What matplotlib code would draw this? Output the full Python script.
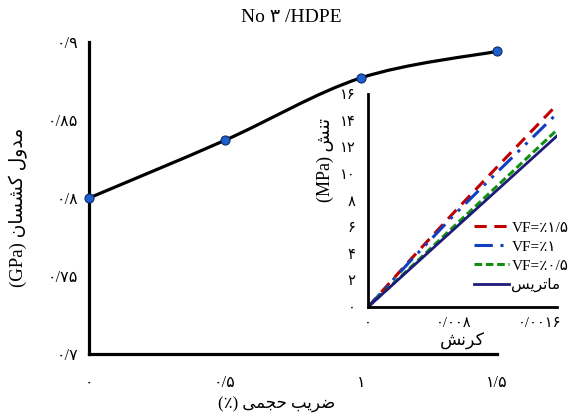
import matplotlib
matplotlib.use("Agg")
import matplotlib.pyplot as plt
from matplotlib.path import Path
from matplotlib.patches import PathPatch
from matplotlib.ticker import FuncFormatter

plt.rcParams['font.family'] = ['Liberation Serif', 'DejaVu Sans']

# main chart: modulus vs volume fraction
vf = [0, 0.5, 1, 1.5]
modulus = [0.8, 0.837, 0.877, 0.894]

# inset: stress-strain curves
strain = [0, 0.004, 0.008, 0.012, 0.0176]
stress_vf15 = [0, 3.6, 7.1, 10.5, 15.2]
stress_vf10 = [0, 3.5, 6.9, 10.1, 14.3]
stress_vf05 = [0, 3.0, 6.05, 9.07, 13.3]
stress_matrix = [0, 2.92, 5.84, 8.76, 12.85]
inset_xticks = [0, 0.008, 0.016]
inset_xticklabels = ['۰', '۰/۰۰۸', '۰/۰۰۱۶']

# tiny persian shaper: (isolated, final, initial, medial)
FORMS = {
    'ا': ('\uFE8D', '\uFE8E', None, None),
    'د': ('\uFEA9', '\uFEAA', None, None),
    'ر': ('\uFEAD', '\uFEAE', None, None),
    'و': ('\uFEED', '\uFEEE', None, None),
    'ب': ('\uFE8F', '\uFE90', '\uFE91', '\uFE92'),
    'ت': ('\uFE95', '\uFE96', '\uFE97', '\uFE98'),
    'ج': ('\uFE9D', '\uFE9E', '\uFE9F', '\uFEA0'),
    'ح': ('\uFEA1', '\uFEA2', '\uFEA3', '\uFEA4'),
    'س': ('\uFEB1', '\uFEB2', '\uFEB3', '\uFEB4'),
    'ش': ('\uFEB5', '\uFEB6', '\uFEB7', '\uFEB8'),
    'ض': ('\uFEBD', '\uFEBE', '\uFEBF', '\uFEC0'),
    'ل': ('\uFEDD', '\uFEDE', '\uFEDF', '\uFEE0'),
    'م': ('\uFEE1', '\uFEE2', '\uFEE3', '\uFEE4'),
    'ن': ('\uFEE5', '\uFEE6', '\uFEE7', '\uFEE8'),
    'ک': ('\uFB8E', '\uFB8F', '\uFB90', '\uFB91'),
    'ی': ('\uFBFC', '\uFBFD', '\uFBFE', '\uFBFF'),
}


def fa(text):
    out = []
    for i, ch in enumerate(text):
        if ch not in FORMS:
            out.append(ch)
            continue
        prev = text[i - 1] if i > 0 else None
        nxt = text[i + 1] if i + 1 < len(text) else None
        jp = prev in FORMS and FORMS[prev][2] is not None
        jn = nxt in FORMS and FORMS[ch][2] is not None
        iso, fin, ini, med = FORMS[ch]
        out.append(med if jp and jn else fin if jp else ini if jn else iso)
    return ''.join(reversed(out))


def fa_num(v, pos=None):
    s = '{:g}'.format(v)
    return s.translate(str.maketrans('0123456789.', '۰۱۲۳۴۵۶۷۸۹/'))


def smooth_path(xs, ys):
    # catmull-rom through the data points, as bezier segments
    pts = list(zip(xs, ys))
    verts, codes = [pts[0]], [Path.MOVETO]
    for i in range(len(pts) - 1):
        p0 = pts[i - 1] if i > 0 else pts[i]
        p1, p2 = pts[i], pts[i + 1]
        p3 = pts[i + 2] if i + 2 < len(pts) else p2
        c1 = (p1[0] + (p2[0] - p0[0]) / 6, p1[1] + (p2[1] - p0[1]) / 6)
        c2 = (p2[0] - (p3[0] - p1[0]) / 6, p2[1] - (p3[1] - p1[1]) / 6)
        verts += [c1, c2, p2]
        codes += [Path.CURVE4] * 3
    return Path(verts, codes)


fig = plt.figure(figsize=(5.76, 4.16), dpi=100)
ax = fig.add_axes([0.1545, 0.149, 0.708, 0.75])

ax.add_patch(PathPatch(smooth_path(vf, modulus), fc='none', ec='black', lw=2.3, zorder=2))
ax.plot(vf, modulus, 'o', ms=6.5, mfc='#1f5fcc', mec='#0a2a6a', mew=0.8, zorder=3, clip_on=False)

ax.set_xlim(0, 1.5)
ax.set_ylim(0.7, 0.9)
ax.set_xticks([0, 0.5, 1, 1.5])
ax.set_yticks([0.7, 0.75, 0.8, 0.85, 0.9])
ax.xaxis.set_major_formatter(FuncFormatter(fa_num))
ax.yaxis.set_major_formatter(FuncFormatter(fa_num))
ax.tick_params(length=0, labelsize=11.5)
ax.tick_params(axis='y', pad=8)
ax.tick_params(axis='x', pad=15)
for s in ['top', 'right']:
    ax.spines[s].set_visible(False)
for s in ['left', 'bottom']:
    ax.spines[s].set_linewidth(2.3)

fig.text(291 / 576, 1 - 17 / 416, 'No ۳ /HDPE', ha='center', va='center', fontsize=14)
fig.text(277 / 576, 1 - 405 / 416, '(٪) ' + fa('ضریب حجمی'), ha='center', va='center', fontsize=12)
fig.text(18 / 576, 1 - 207 / 416, '(GPa) ' + fa('مدول کشسان'), ha='center', va='center',
         rotation=90, fontsize=13.5)

# inset
ins = fig.add_axes([368 / 576, 1 - 307 / 416, 189 / 576, 213 / 416])
ins.plot(strain, stress_vf15, color='#c00000', lw=2.2, dashes=(4, 2.5), label='VF=٪۱/۵')
ins.plot(strain[:-1] + [0.0173], stress_vf10, color='#1040c0', lw=2.2, dashes=(6, 2.5, 1, 2.5, 1, 2.5),
         label='VF=٪۱')
ins.plot(strain, stress_vf05, color='#109010', lw=2.2, dashes=(2.5, 1.2), label='VF=٪۰/۵')
ins.plot(strain, stress_matrix, color='#1e1a78', lw=2.0, label=fa('ماتریس'))

ins.set_xlim(0, 0.0176)
ins.set_ylim(0, 16)
ins.set_xticks(inset_xticks)
ins.set_xticklabels(inset_xticklabels)
ins.set_yticks(range(0, 17, 2))
ins.yaxis.set_major_formatter(FuncFormatter(fa_num))
ins.tick_params(length=0, labelsize=10.5)
ins.tick_params(axis='y', pad=9)
ins.tick_params(axis='x', pad=7)
ins.patch.set_alpha(0)
for s in ['top', 'right']:
    ins.spines[s].set_visible(False)
for s in ['left', 'bottom']:
    ins.spines[s].set_linewidth(2.0)

fig.text(462 / 576, 1 - 341 / 416, fa('کرنش'), ha='center', va='center', fontsize=12.5)
fig.text(325 / 576, 1 - 160 / 416, '(MPa) ' + fa('تنش'), ha='center', va='center',
         rotation=90, fontsize=13)

fig.legend(loc='upper left', bbox_to_anchor=(474 / 576, 1 - 221 / 416), frameon=False,
           fontsize=11, handlelength=2.3, handletextpad=0.15, labelspacing=0.35, borderpad=0,
           borderaxespad=0)

fig.savefig('out.png', dpi=100)
